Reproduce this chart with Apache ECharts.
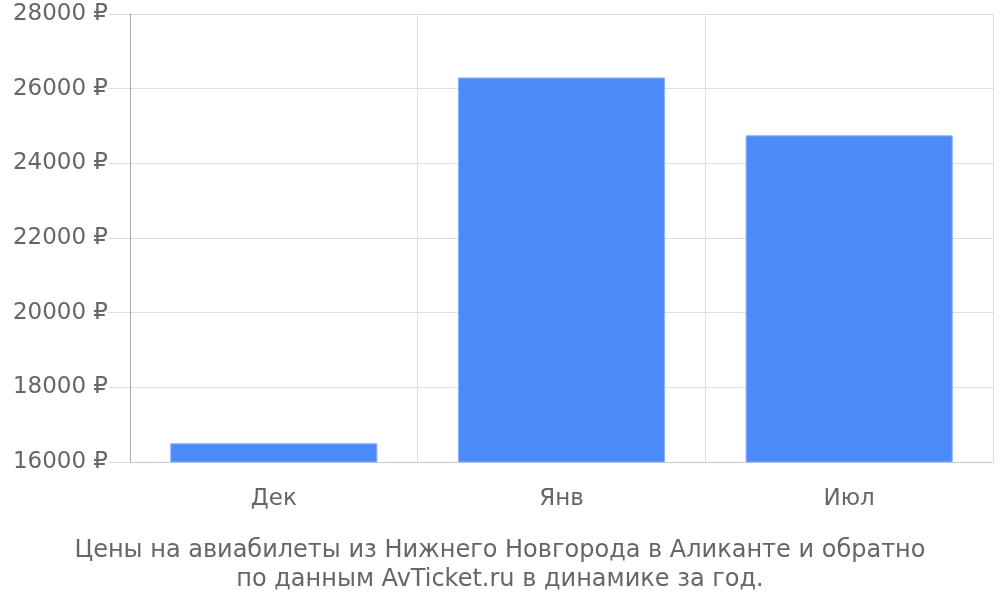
<!DOCTYPE html>
<html><head><meta charset="utf-8">
<script src="https://cdn.jsdelivr.net/npm/echarts@6/dist/echarts.min.js"></script>
<style>html,body{margin:0;padding:0;background:#fff}#c{width:1000px;height:600px}</style>
</head><body><div id="c"></div>
<script>
var categories = ["Дек", "Янв", "Июл"];
var prices = [16500, 26300, 24750];
var yMin = 16000, yMax = 28000, yStep = 2000;
var titleText = "Цены на авиабилеты из Нижнего Новгорода в Аликанте и обратно\nпо данным AvTicket.ru в динамике за год.";

var chart = echarts.init(document.getElementById('c'));
chart.setOption({
  animation: false,
  textStyle: { fontFamily: 'DejaVu Sans' },
  title: {
    text: titleText, left: 'center', top: 531,
    textStyle: { fontSize: 24, fontWeight: 'normal', color: '#666', lineHeight: 29, fontFamily: 'DejaVu Sans', align: 'center' }
  },
  grid: { left: 130, right: 7, top: 14, bottom: 138 },
  xAxis: {
    type: 'category', data: categories,
    axisLine: { lineStyle: { color: '#c8c8c8', width: 1 } },
    axisTick: { length: 18, lineStyle: { color: '#c8c8c8' } },
    axisLabel: { fontSize: 23, color: '#666', margin: 26 },
    splitLine: { show: true, lineStyle: { color: '#dedede' } }
  },
  yAxis: {
    type: 'value', min: yMin, max: yMax, interval: yStep,
    axisLine: { show: true, lineStyle: { color: '#aaa' } },
    axisTick: { show: true, length: 22, lineStyle: { color: '#dedede' } },
    axisLabel: { fontSize: 23, color: '#666', margin: 22, formatter: function (v) { return v + ' ₽'; } },
    splitLine: { lineStyle: { color: '#dedede' } }
  },
  series: [{
    type: 'bar', data: prices, barWidth: '72%',
    itemStyle: { color: '#4d8af9', borderColor: '#8ab2fb', borderWidth: 1 }
  }]
});
</script></body></html>
